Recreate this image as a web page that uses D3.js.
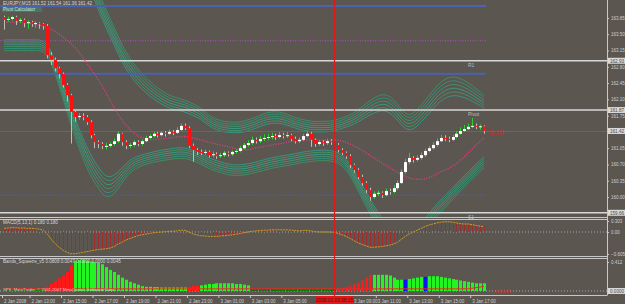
<!DOCTYPE html>
<html>
<head>
<meta charset="utf-8">
<script src="https://cdn.jsdelivr.net/npm/d3@7"></script>
<style>
  html, body { margin: 0; padding: 0; background: #5b5650; }
  svg { display: block; font-family: "Liberation Sans", "DejaVu Sans", sans-serif; }
</style>
</head>
<body>
<script>
// EURJPY M15, 2-3 Jan 2008, bars 0..122 (first bar 2 Jan 11:15)
var firstOpen = 163.87;
var closes = [163.81,163.83,163.87,163.79,163.81,163.74,163.76,163.72,163.74,163.72,
  163.68,163.05,162.95,162.77,162.65,162.41,162.19,161.83,161.72,161.74,
  161.72,161.61,161.33,161.18,161.14,161.10,161.10,161.14,161.20,161.36,
  161.18,161.10,161.12,161.18,161.14,161.20,161.27,161.31,161.36,161.33,
  161.38,161.36,161.40,161.38,161.44,161.53,161.48,161.10,161.01,160.97,
  160.95,160.97,160.90,160.92,160.88,160.90,160.95,160.92,160.97,160.99,
  161.05,161.12,161.16,161.23,161.20,161.25,161.27,161.29,161.31,161.29,
  161.33,161.31,161.33,161.25,161.20,161.23,161.31,161.36,161.23,161.14,
  161.18,161.16,161.20,161.18,161.12,161.01,160.95,160.88,160.69,160.58,
  160.43,160.30,160.15,160.00,160.07,160.09,160.04,160.13,160.11,160.19,
  160.30,160.54,160.75,160.84,160.80,160.84,160.90,160.99,161.05,161.12,
  161.20,161.27,161.25,161.23,161.29,161.36,161.42,161.46,161.51,161.53,
  161.51,161.52,161.42];
var highs = [163.90,163.88,163.90,163.90,163.85,163.84,163.80,163.79,163.78,163.76,
  163.74,163.72,163.12,163.00,162.80,162.68,162.45,162.22,161.88,161.80,
  161.80,161.76,161.65,161.36,161.22,161.18,161.16,161.18,161.26,161.42,
  161.38,161.22,161.16,161.22,161.22,161.24,161.32,161.35,161.40,161.40,
  161.42,161.42,161.45,161.44,161.50,161.58,161.58,161.52,161.15,161.05,
  161.02,161.02,161.00,160.98,160.96,160.95,160.99,160.98,161.00,161.03,
  161.10,161.16,161.22,161.30,161.28,161.32,161.35,161.36,161.38,161.36,
  161.40,161.38,161.40,161.36,161.30,161.28,161.36,161.42,161.40,161.26,
  161.22,161.22,161.25,161.24,161.22,161.16,161.05,160.98,160.92,160.72,
  160.62,160.48,160.34,160.20,160.12,160.14,160.12,160.18,160.18,160.25,
  160.36,160.60,160.82,160.95,160.88,160.90,160.96,161.04,161.10,161.18,
  161.26,161.34,161.33,161.30,161.34,161.42,161.50,161.55,161.58,161.70,
  161.58,161.56,161.54];
var lows = [163.60,163.77,163.80,163.70,163.74,163.65,163.62,163.66,163.64,163.62,
  163.60,162.98,162.84,162.70,162.55,162.35,162.05,161.15,161.62,161.66,
  161.65,161.55,161.26,161.05,161.05,161.03,161.02,161.06,161.10,161.16,
  161.10,161.03,161.05,161.08,161.09,161.10,161.18,161.24,161.28,161.28,
  161.30,161.30,161.33,161.33,161.36,161.42,161.44,161.05,160.76,160.90,
  160.90,160.90,160.85,160.85,160.82,160.84,160.86,160.87,160.88,160.93,
  160.96,161.02,161.08,161.12,161.15,161.16,161.20,161.22,161.24,161.23,
  161.26,161.26,161.27,161.20,161.15,161.16,161.20,161.28,161.08,161.08,
  161.10,161.10,161.12,161.12,161.06,160.96,160.90,160.82,160.62,160.52,
  160.38,160.24,160.08,159.92,159.96,160.02,159.98,160.01,160.05,160.08,
  160.15,160.28,160.50,160.70,160.74,160.76,160.80,160.86,160.96,161.02,
  161.08,161.18,161.20,161.18,161.20,161.26,161.34,161.40,161.44,161.48,
  161.46,161.44,161.36];

// moving average and band edges, every second bar (0,2,...,122)
var maVals = [163.76,163.76,163.76,163.74,163.72,163.68,163.61,163.51,163.38,163.23,
  163.01,162.77,162.52,162.24,161.91,161.64,161.44,161.31,161.25,161.23,
  161.25,161.27,161.29,161.31,161.27,161.23,161.18,161.14,161.10,161.06,
  161.01,161.01,161.06,161.08,161.12,161.14,161.18,161.21,161.23,161.23,
  161.23,161.23,161.23,161.21,161.14,161.06,160.95,160.84,160.73,160.63,
  160.54,160.43,160.39,160.37,160.41,160.50,160.58,160.65,160.78,160.95,
  161.12,161.27];
var upperVals = [164.32,164.32,164.34,164.34,164.34,164.34,164.50,164.71,164.93,165.05,
  165.10,164.45,164.02,163.63,163.27,162.90,162.62,162.41,162.24,162.11,
  162.00,161.91,161.87,161.83,161.76,161.68,161.53,161.44,161.40,161.38,
  161.38,161.42,161.48,161.55,161.59,161.59,161.55,161.48,161.44,161.40,
  161.40,161.40,161.42,161.48,161.53,161.61,161.72,161.81,161.87,161.83,
  161.66,161.44,161.44,161.61,161.79,162.00,162.13,162.19,162.17,162.11,
  162.02,161.91];
var lowerVals = [163.38,163.38,163.38,163.38,163.38,163.38,163.16,162.69,162.19,161.70,
  161.27,160.90,160.63,160.41,160.45,160.63,160.80,160.88,160.93,160.97,
  161.01,161.03,161.06,161.06,161.01,160.93,160.84,160.78,160.73,160.69,
  160.69,160.71,160.75,160.80,160.84,160.88,160.90,160.93,160.97,160.99,
  161.01,161.01,160.99,160.90,160.71,160.41,160.11,159.81,159.55,159.34,
  159.21,159.16,159.25,159.42,159.64,159.85,160.02,160.19,160.37,160.54,
  160.71,160.86];

var pivotLevels = [{name: "R1", price: 162.93}, {name: "Pivot", price: 161.87}, {name: "S1", price: 159.66}];
var blueLevels = [164.11, 162.65];
var purpleDotLevel = 163.36;
var blueDotLevel = 160.04;
var lastPrice = 161.42;
var mainTicks = [163.85,163.50,163.15,162.80,162.45,162.10,161.75,161.05,160.70,160.35,160.00];

var macdVals = [0.10,0.11,0.12,0.12,0.11,0.11,0.10,0.10,0.09,0.08,0.05,
  -0.05,-0.20,-0.32,-0.42,-0.50,-0.56,-0.60,-0.60,-0.58,-0.56,
  -0.54,-0.52,-0.50,-0.48,-0.47,-0.46,-0.44,-0.40,-0.33,-0.28,
  -0.22,-0.18,-0.14,-0.10,-0.08,-0.06,-0.04,-0.02,-0.01,0.00,
  0.01,0.02,0.02,0.03,0.05,0.05,0.00,-0.05,-0.08,-0.10,
  -0.11,-0.12,-0.12,-0.12,-0.11,-0.10,-0.09,-0.08,-0.06,-0.04,
  -0.02,0.00,0.02,0.03,0.04,0.05,0.05,0.06,0.06,0.06,
  0.06,0.06,0.05,0.04,0.03,0.04,0.05,0.03,0.01,0.00,
  0.00,0.00,0.00,-0.01,-0.04,-0.08,-0.12,-0.18,-0.24,-0.30,
  -0.34,-0.38,-0.42,-0.42,-0.41,-0.40,-0.38,-0.36,-0.33,-0.28,
  -0.20,-0.12,-0.05,0.00,0.05,0.10,0.15,0.19,0.22,0.25,
  0.27,0.28,0.28,0.27,0.25,0.23,0.22,0.22,0.20,0.18,0.16,0.15];
var macdTicks = [0.303, 0, -0.605];

var squeezeVals = [0.015,0.015,0.015,0.015,0.015,0.015,0.015,0.015,0.015,0.015,0.015,
  0.06,0.10,0.14,0.18,0.22,0.27,0.36,
  0.43,0.44,0.44,0.43,0.42,0.41,0.40,0.38,0.34,0.30,
  0.27,0.23,0.19,0.16,0.13,0.11,0.09,0.07,
  0.06,0.06,0.055,0.055,0.05,0.05,0.05,0.05,0.05,0.05,0.05,
  0.06,0.07,0.07,
  0.08,0.09,0.10,0.10,0.11,0.11,0.11,0.11,0.11,0.10,0.10,0.09,0.08,
  0.03,0.03,0.03,0.03,0.03,0.03,0.03,0.03,0.03,0.03,0.03,0.03,0.03,0.03,0.03,0.03,0.03,0.03,0.03,0.03,0.03,0.03,
  0.03,0.04,0.06,0.08,0.10,0.12,0.15,0.19,0.23,
  0.23,0.23,0.23,0.23,0.22,
  0.19,0.16,0.16,
  0.16,
  0.17,0.18,0.19,0.20,
  0.20,
  0.21,0.21,0.21,0.20,0.19,0.18,0.17,
  0.16,0.15,0.14,0.13,0.12,0.11,0.11,0.11];
// colour runs of the squeeze histogram: [code, number of bars]
var squeezeRuns = [["g",11],["r",7],["l",29],["r",3],["l",13],["g",22],["r",9],["l",8],["b",1],["l",4],["b",1],["l",15]];
var squeezeLine = [[0,0.03],[118,0.03],[122,0.065]];

var timeTickBars = [0,7,15,23,31,39,47,55,63,71,87,95,103,111,119];
var timeTickLabels = ["2 Jan 2008","2 Jan 13:00","2 Jan 15:00","2 Jan 17:00","2 Jan 19:00","2 Jan 21:00",
  "2 Jan 23:00","3 Jan 01:00","3 Jan 03:00","3 Jan 05:00","3 Jan 09:00","3 Jan 11:00","3 Jan 13:00",
  "3 Jan 15:00","3 Jan 17:00"];
var cursorBar = 84;
var cursorLabel = "2008.01.03 08:15";

var W = 625, H = 304, axisX = 607;
var fg = "#c8c8c8";

var svg = d3.select("body").append("svg").attr("width", W).attr("height", H);
svg.append("rect").attr("width", W).attr("height", H).attr("fill", "#5b5650");

var x = d3.scaleLinear().domain([0, 122]).range([4, 484]);
var yMain = d3.scaleLinear().domain([163.85, 160.00]).range([18, 197]);
var yMacd = d3.scaleLinear().domain([0.303, -0.605]).range([221, 254]);
var ySq = d3.scaleLinear().domain([0, 0.412]).range([291, 262]);

var defs = svg.append("defs");
function clip(id, y0, y1) {
  defs.append("clipPath").attr("id", id).append("rect")
    .attr("x", 0).attr("y", y0).attr("width", axisX).attr("height", y1 - y0);
}
clip("cMain", 0, 217);
clip("cMacd", 219, 256);
clip("cSq", 258, 295);

// ---- main window ----
var gMain = svg.append("g").attr("clip-path", "url(#cMain)");

// bands: several parallel lines on each side
var evenBars = maVals.map(function(d, i) { return i * 2; });
var bandColors = ["#2f9c8e", "#3d9c62", "#35a08f", "#3f9a66", "#2c9488", "#3b955e"];
[upperVals, lowerVals].forEach(function(edge, side) {
  for (var j = 0; j < 6; j++) {
    var line = d3.line()
      .curve(d3.curveBasis)
      .x(function(d, i) { return x(evenBars[i]); })
      .y(function(d, i) {
        var dist = Math.abs(d - maVals[i]);
        var gap = Math.min(0.09, Math.max(0.045, 0.035 + 0.03 * dist));
        return yMain(side === 0 ? d + j * gap : d - j * gap);
      });
    gMain.append("path").datum(edge).attr("d", line)
      .attr("fill", "none").attr("stroke", bandColors[j]).attr("stroke-width", 0.9);
  }
});

// level lines
blueLevels.forEach(function(p) {
  gMain.append("line").attr("x1", 0).attr("x2", x(122) + 2)
    .attr("y1", yMain(p)).attr("y2", yMain(p))
    .attr("stroke", "#4a62b0").attr("stroke-width", 2);
});
gMain.append("line").attr("x1", 0).attr("x2", x(122) + 2)
  .attr("y1", yMain(purpleDotLevel)).attr("y2", yMain(purpleDotLevel))
  .attr("stroke", "#b050c0").attr("stroke-width", 1).attr("stroke-dasharray", "1,1.5");
gMain.append("line").attr("x1", 0).attr("x2", x(122) + 2)
  .attr("y1", yMain(blueDotLevel)).attr("y2", yMain(blueDotLevel))
  .attr("stroke", "#4a62c8").attr("stroke-width", 1).attr("stroke-dasharray", "1,1.5");
pivotLevels.forEach(function(l) {
  gMain.append("line").attr("x1", 0).attr("x2", axisX)
    .attr("y1", yMain(l.price)).attr("y2", yMain(l.price))
    .attr("stroke", "#d8d8d8").attr("stroke-width", 1.6);
});
gMain.append("line").attr("x1", 0).attr("x2", axisX)
  .attr("y1", yMain(lastPrice) + 0.5).attr("y2", yMain(lastPrice) + 0.5)
  .attr("stroke", "#2f8a4f").attr("stroke-width", 1);

// dotted moving average
gMain.append("path").datum(maVals)
  .attr("d", d3.line().curve(d3.curveBasis)
    .x(function(d, i) { return x(evenBars[i]); })
    .y(function(d) { return yMain(d); }))
  .attr("fill", "none").attr("stroke", "#d8407a").attr("stroke-width", 1.3)
  .attr("stroke-dasharray", "1.2,1.4");

// candles
var bars = closes.map(function(c, i) {
  return { i: i, o: i ? closes[i - 1] : firstOpen, h: highs[i], l: lows[i], c: c };
});
var candle = gMain.selectAll("g.candle").data(bars).enter().append("g");
candle.append("line")
  .attr("x1", function(d) { return Math.round(x(d.i)) + 0.5; })
  .attr("x2", function(d) { return Math.round(x(d.i)) + 0.5; })
  .attr("y1", function(d) { return yMain(d.h); })
  .attr("y2", function(d) { return yMain(d.l); })
  .attr("stroke", function(d) { return d.c >= d.o ? "#28d028" : "#c0bcb8"; })
  .attr("stroke-width", 1);
candle.append("rect")
  .attr("x", function(d) { return Math.round(x(d.i)) - 1; })
  .attr("width", 3)
  .attr("y", function(d) { return yMain(Math.max(d.o, d.c)); })
  .attr("height", function(d) { return Math.max(1, Math.abs(yMain(d.o) - yMain(d.c))); })
  .attr("fill", function(d) { return d.c >= d.o ? "#ffffff" : "#ff1010"; });

// level names
pivotLevels.forEach(function(l) {
  svg.append("text").attr("x", 468).attr("y", yMain(l.price) + 6)
    .attr("font-size", 5).attr("fill", "#bdbdbd").text(l.name);
});
svg.append("text").attr("x", 489).attr("y", yMain(lastPrice) + 4)
  .attr("font-size", 7.5).attr("fill", "#c83030").text("3:10");

svg.append("text").attr("x", 3).attr("y", 5).attr("font-size", 4.6).attr("fill", "#d8d8d8")
  .text("EURJPY,M15  161.52  161.54  161.36  161.42");
svg.append("rect").attr("x", 2).attr("y", 7).attr("width", 40).attr("height", 5).attr("fill", "#3e8f80").attr("opacity", 0.5);
svg.append("text").attr("x", 3).attr("y", 11).attr("font-size", 4.6).attr("fill", "#bfe8dc")
  .text("Pivot Calculator");

// ---- MACD window ----
var gMacd = svg.append("g").attr("clip-path", "url(#cMacd)");
gMacd.append("line").attr("x1", 0).attr("x2", axisX).attr("y1", yMacd(0)).attr("y2", yMacd(0))
  .attr("stroke", "#a8a8a8").attr("stroke-dasharray", "1,2");
gMacd.selectAll("line.h").data(macdVals).enter().append("line")
  .attr("x1", function(d, i) { return Math.round(x(i)) + 0.5; })
  .attr("x2", function(d, i) { return Math.round(x(i)) + 0.5; })
  .attr("y1", yMacd(0)).attr("y2", function(d) { return yMacd(d); })
  .attr("stroke", "#b02424").attr("stroke-width", 0.8);
gMacd.append("path").datum(macdVals)
  .attr("d", d3.line().x(function(d, i) { return x(i); }).y(function(d) { return yMacd(d); }))
  .attr("fill", "none").attr("stroke", "#d49a24").attr("stroke-width", 1).attr("stroke-dasharray", "2,0.8");
svg.append("text").attr("x", 3).attr("y", 224).attr("font-size", 4.6).attr("fill", "#d8d8d8")
  .text("MACD(5,13,1) 0.180 0.180");

// ---- squeeze window ----
var sqColor = { g: "#007a00", r: "#ff1a1a", l: "#22f522", b: "#1010ff" };
var sqCodes = [];
squeezeRuns.forEach(function(r) { for (var k = 0; k < r[1]; k++) sqCodes.push(r[0]); });
var gSq = svg.append("g").attr("clip-path", "url(#cSq)");
gSq.append("line").attr("x1", 0).attr("x2", axisX).attr("y1", ySq(0)).attr("y2", ySq(0))
  .attr("stroke", "#a8a8a8").attr("stroke-dasharray", "1,2");
gSq.selectAll("rect.s").data(squeezeVals).enter().append("rect")
  .attr("x", function(d, i) { return Math.round(x(i)) - 1; })
  .attr("width", 3)
  .attr("y", function(d) { return ySq(d); })
  .attr("height", function(d) { return ySq(0) - ySq(d); })
  .attr("fill", function(d, i) { return sqColor[sqCodes[i]]; });
gSq.append("path").datum(squeezeLine)
  .attr("d", d3.line().x(function(d) { return x(d[0]); }).y(function(d) { return ySq(d[1]); }))
  .attr("fill", "none").attr("stroke", "#ff2020").attr("stroke-width", 1);
svg.append("text").attr("x", 3).attr("y", 263).attr("font-size", 4.6).attr("fill", "#d8d8d8")
  .text("Bands_Squeeze_v5 0.0808 0.0047 0.0000 0.0000 0.0045");
svg.append("text").attr("x", 3).attr("y", 291).attr("font-size", 4.2).attr("fill", "#d0d0d0")
  .text("SPS, MetaTrader, \u00a9 2001-2007 MetaQuotes Software Corp.");
svg.append("text").attr("x", 494).attr("y", 293).attr("font-size", 5.5).attr("fill", "#e02020")
  .text("0.0045");

// ---- frames ----
var frame = svg.append("g").attr("stroke", fg).attr("fill", "none");
frame.append("line").attr("x1", axisX + 0.5).attr("x2", axisX + 0.5).attr("y1", 0).attr("y2", 295);
[217.5, 219.5, 256.5, 258.5, 295.5].forEach(function(yy) {
  frame.append("line").attr("x1", 0).attr("x2", axisX + 0.5).attr("y1", yy).attr("y2", yy);
});

// ---- vertical cursor line ----
svg.append("line").attr("x1", x(cursorBar)).attr("x2", x(cursorBar)).attr("y1", 0).attr("y2", 296)
  .attr("stroke", "#e01818").attr("stroke-width", 1.2);

// ---- right axes ----
function styleAxis(g) {
  g.select(".domain").remove();
  g.selectAll(".tick line").attr("stroke", fg);
  g.selectAll(".tick text").attr("fill", "#d0d0d0").attr("font-size", 4.5)
    .attr("font-family", "Liberation Sans, DejaVu Sans, sans-serif");
}
svg.append("g").attr("transform", "translate(" + axisX + ",0)")
  .call(d3.axisRight(yMain).tickValues(mainTicks).tickSize(2).tickPadding(2).tickFormat(d3.format(".2f")))
  .call(styleAxis);
svg.append("g").attr("transform", "translate(" + axisX + ",0)")
  .call(d3.axisRight(yMacd).tickValues(macdTicks).tickSize(2).tickPadding(2)
    .tickFormat(function(d) { return d === 0 ? "0.00" : d3.format(".3f")(d); }))
  .call(styleAxis);
svg.append("g").attr("transform", "translate(" + axisX + ",0)")
  .call(d3.axisRight(ySq).tickValues([0.412]).tickSize(2).tickPadding(2).tickFormat(d3.format(".3f")))
  .call(styleAxis);

// highlighted price boxes
var boxes = pivotLevels.map(function(l) { return { y: yMain(l.price), t: d3.format(".2f")(l.price) }; });
boxes.push({ y: yMain(lastPrice), t: d3.format(".2f")(lastPrice) });
boxes.push({ y: ySq(0), t: "0.0000" });
boxes.forEach(function(b) {
  svg.append("rect").attr("x", axisX + 1).attr("y", b.y - 3).attr("width", 17).attr("height", 6)
    .attr("fill", "#d8d8d8");
  svg.append("text").attr("x", axisX + 3).attr("y", b.y + 1.8).attr("font-size", 4.6)
    .attr("fill", "#4a4a4a").text(b.t);
});

// ---- time axis ----
var boxHalf = 19;
var tAxis = svg.append("g").attr("transform", "translate(0,295)")
  .call(d3.axisBottom(x).tickValues(timeTickBars).tickSize(3).tickPadding(1)
    .tickFormat(function(d, i) { return timeTickLabels[i]; }));
tAxis.select(".domain").remove();
tAxis.selectAll(".tick").attr("transform", function(d) { return "translate(" + (x(d) - 1.5) + ",0)"; });
tAxis.selectAll(".tick line").attr("stroke", fg);
tAxis.selectAll(".tick text").attr("fill", "#d0d0d0").attr("font-size", 4.5)
  .attr("text-anchor", "start").attr("dy", "0.9em")
  .attr("x", function(d) {
    // a label starting under the cursor box is pushed just past it
    var left = x(d) - 1.5 + 1.5, boxEnd = x(cursorBar) + boxHalf;
    return (left > x(cursorBar) - boxHalf && left < boxEnd) ? boxEnd - x(d) + 2 : 1.5;
  })
  .attr("font-family", "Liberation Sans, DejaVu Sans, sans-serif");

svg.append("rect").attr("x", x(cursorBar) - boxHalf).attr("y", 296).attr("width", boxHalf * 2).attr("height", 7)
  .attr("fill", "#e01818");
svg.append("text").attr("x", x(cursorBar)).attr("y", 301.5).attr("text-anchor", "middle")
  .attr("font-size", 4.8).attr("fill", "#5a1010").text(cursorLabel);
</script>
</body>
</html>
